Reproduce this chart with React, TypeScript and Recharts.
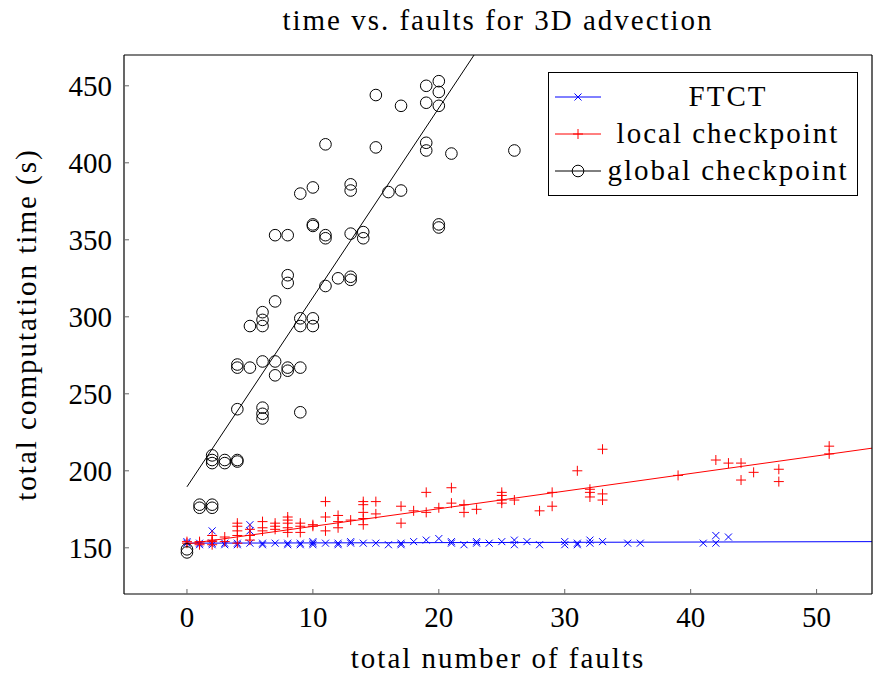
import { ComposedChart, Scatter, Line, XAxis, YAxis, Legend } from "recharts";

const FONT = '"Liberation Serif", "DejaVu Serif", serif';
const FS = 29;
const LS = "2px";

// [faults, time]
const ftctPoints: [number, number][] = [
  [0, 154], [0, 153], [1, 152], [1, 153], [2, 152], [2, 161], [2, 153], [3, 152], [3, 153],
  [4, 153], [4, 152], [5, 153], [5, 161], [5, 165], [6, 152], [6, 153], [7, 153], [8, 152],
  [8, 153], [9, 152], [9, 153], [10, 152], [10, 153], [10, 154], [11, 153], [12, 152], [12, 153],
  [13, 153], [13, 154], [14, 153], [15, 153], [16, 152], [17, 152], [17, 153], [18, 154], [19, 155],
  [20, 156], [21, 153], [21, 154], [22, 152], [23, 153], [23, 154], [24, 153], [25, 154], [26, 152],
  [26, 155], [27, 154], [28, 152], [30, 152], [30, 154], [31, 152], [31, 153], [32, 153], [32, 155],
  [33, 154], [35, 153], [36, 153], [41, 153], [42, 153], [42, 158], [43, 157],
];

const localPoints: [number, number][] = [
  [0, 153], [0, 154], [1, 152], [1, 153], [1, 154], [2, 152], [2, 154], [2, 155], [2, 158],
  [3, 154], [3, 157], [4, 153], [4, 158], [4, 161], [4, 164], [4, 166], [5, 155], [5, 158],
  [5, 162], [6, 161], [6, 163], [6, 167], [7, 162], [7, 164], [7, 166], [8, 160], [8, 163],
  [8, 166], [8, 168], [8, 170], [9, 160], [9, 164], [9, 166], [10, 164], [10, 165], [11, 161],
  [11, 170], [11, 180], [12, 163], [12, 167], [12, 171], [13, 168], [14, 165], [14, 169], [14, 173],
  [14, 178], [14, 180], [15, 172], [15, 180], [17, 166], [17, 177], [18, 174], [19, 173], [19, 186],
  [20, 176], [21, 179], [21, 189], [22, 173], [22, 178], [23, 175], [25, 179], [25, 181], [25, 184],
  [25, 186], [26, 181], [28, 174], [29, 177], [29, 186], [31, 200], [32, 183], [32, 186], [32, 188],
  [33, 181], [33, 185], [33, 214], [39, 197], [42, 207], [43, 205], [44, 194], [44, 205], [45, 199],
  [47, 193], [47, 201], [51, 211], [51, 216],
];

const globalPoints: [number, number][] = [
  [0, 147], [0, 149], [1, 176], [1, 178], [2, 176], [2, 178], [2, 205], [2, 207], [2, 210],
  [3, 205], [3, 207], [4, 206], [4, 207], [4, 240], [4, 267], [4, 269], [5, 267], [5, 294],
  [6, 234], [6, 237], [6, 241], [6, 271], [6, 294], [6, 298], [6, 303], [7, 262], [7, 271],
  [7, 310], [7, 353], [8, 265], [8, 267], [8, 322], [8, 327], [8, 353], [9, 238], [9, 267],
  [9, 294], [9, 299], [9, 380], [10, 294], [10, 299], [10, 359], [10, 360], [10, 384], [11, 320],
  [11, 351], [11, 353], [11, 412], [12, 325], [13, 324], [13, 326], [13, 354], [13, 382], [13, 386],
  [14, 351], [14, 355], [15, 410], [15, 444], [16, 381], [17, 382], [17, 437], [19, 408], [19, 413],
  [19, 439], [19, 450], [20, 358], [20, 360], [20, 437], [20, 446], [20, 453], [21, 406], [26, 408],
];

// linear fits, endpoints
const ftctFit: [number, number][] = [[0, 153], [54.4, 154]];
const localFit: [number, number][] = [[0, 152.5], [54.4, 214.7]];
const globalFit: [number, number][] = [[0, 189.6], [22.8, 470]];

const xTicks = [0, 10, 20, 30, 40, 50];
const yTicks = [150, 200, 250, 300, 350, 400, 450];

const toRows = (pts: [number, number][]) => pts.map(([x, y]) => ({ x, y }));

const CrossMark = ({ cx, cy, color }: any) => (
  <g stroke={color} strokeWidth={1}>
    <line x1={cx - 3.5} y1={cy - 3.5} x2={cx + 3.5} y2={cy + 3.5} />
    <line x1={cx - 3.5} y1={cy + 3.5} x2={cx + 3.5} y2={cy - 3.5} />
  </g>
);

const PlusMark = ({ cx, cy, color }: any) => (
  <g stroke={color} strokeWidth={1}>
    <line x1={cx - 5} y1={cy} x2={cx + 5} y2={cy} />
    <line x1={cx} y1={cy - 5} x2={cx} y2={cy + 5} />
  </g>
);

const CircleMark = ({ cx, cy, color }: any) => (
  <circle cx={cx} cy={cy} r={5.8} fill="none" stroke={color} strokeWidth={1} />
);

const series = [
  { name: "FTCT", color: "#0000ff", Mark: CrossMark },
  { name: "local checkpoint", color: "#ff0000", Mark: PlusMark },
  { name: "global checkpoint", color: "#000000", Mark: CircleMark },
];

function LegendBox() {
  return (
    <div
      style={{
        border: "1px solid #000",
        background: "#fff",
        width: 308,
        height: 122,
        fontFamily: FONT,
        fontSize: FS,
        letterSpacing: LS,
        boxSizing: "content-box",
      }}
    >
      {series.map(({ name, color, Mark }, i) => (
        <div key={name} style={{ display: "flex", alignItems: "center", height: 37, marginTop: i === 0 ? 5 : 0 }}>
          <svg width={50} height={20} style={{ marginLeft: 6, flex: "none" }}>
            <line x1={0} y1={10} x2={46} y2={10} stroke={color} strokeWidth={1} />
            <Mark cx={23} cy={10} color={color} />
          </svg>
          <span style={{ flex: 1, textAlign: "center", lineHeight: "37px", marginRight: 6, whiteSpace: "nowrap" }}>
            {name}
          </span>
        </div>
      ))}
    </div>
  );
}

const tickStyle = { fontSize: FS, fill: "#000", fontFamily: FONT };
const labelStyle = { fontSize: FS, fill: "#000", fontFamily: FONT, letterSpacing: LS };

export default function App() {
  return (
    <div style={{ position: "absolute", left: 0, top: 0, width: 873, height: 675, background: "#fff", fontFamily: FONT }}>
      <div
        style={{
          position: "absolute",
          left: 124,
          width: 748,
          top: 2,
          textAlign: "center",
          fontSize: FS,
          lineHeight: "36px",
          letterSpacing: LS,
        }}
      >
        time vs. faults for 3D advection
      </div>
      <ComposedChart
        width={873}
        height={675}
        margin={{ top: 54, right: 0, bottom: 51, left: 64 }}
      >
        <XAxis
          xAxisId="b"
          type="number"
          dataKey="x"
          domain={[-5, 54.4]}
          allowDataOverflow
          ticks={xTicks}
          height={30}
          tickSize={-5}
          tickMargin={17}
          tick={tickStyle}
          axisLine={{ stroke: "#000", strokeWidth: 1.2 }}
          tickLine={{ stroke: "#666" }}
          label={{ value: "total number of faults", position: "insideBottom", offset: -44, style: labelStyle }}
        />
        <XAxis
          xAxisId="t"
          orientation="top"
          type="number"
          dataKey="x"
          domain={[-5, 54.4]}
          allowDataOverflow
          ticks={xTicks}
          height={1}
          tickSize={-5}
          tick={false}
          axisLine={{ stroke: "#000", strokeWidth: 1.2 }}
          tickLine={{ stroke: "#666" }}
        />
        <YAxis
          yAxisId="l"
          type="number"
          dataKey="y"
          domain={[120, 470]}
          allowDataOverflow
          ticks={yTicks}
          width={60}
          tickSize={-5}
          tickMargin={17}
          tick={tickStyle}
          axisLine={{ stroke: "#000", strokeWidth: 1.2 }}
          tickLine={{ stroke: "#666" }}
          label={{ value: "total computation time (s)", angle: -90, position: "insideLeft", offset: -38, style: { ...labelStyle, textAnchor: "middle" } }}
        />
        <YAxis
          yAxisId="r"
          orientation="right"
          type="number"
          dataKey="y"
          domain={[120, 470]}
          allowDataOverflow
          ticks={yTicks}
          width={1}
          tickSize={-5}
          tick={false}
          axisLine={{ stroke: "#000", strokeWidth: 1.2 }}
          tickLine={{ stroke: "#666" }}
        />
        <Legend
          layout="vertical"
          align="center"
          verticalAlign="middle"
          content={() => <LegendBox />}
          wrapperStyle={{ position: "absolute", left: 548, top: 72, width: 310, height: 124 }}
        />
        {series.map(({ name, color, Mark }, i) => (
          <Scatter
            key={name}
            name={name}
            xAxisId="b"
            yAxisId="l"
            data={toRows([ftctPoints, localPoints, globalPoints][i])}
            shape={(p: any) => <Mark cx={p.cx} cy={p.cy} color={color} />}
            isAnimationActive={false}
          />
        ))}
        {[ftctFit, localFit, globalFit].map((fit, i) => (
          <Line
            key={"fit" + i}
            xAxisId="b"
            yAxisId="l"
            data={toRows(fit)}
            dataKey="y"
            stroke={series[i].color}
            strokeWidth={1}
            dot={false}
            legendType="none"
            isAnimationActive={false}
          />
        ))}
      </ComposedChart>
    </div>
  );
}
